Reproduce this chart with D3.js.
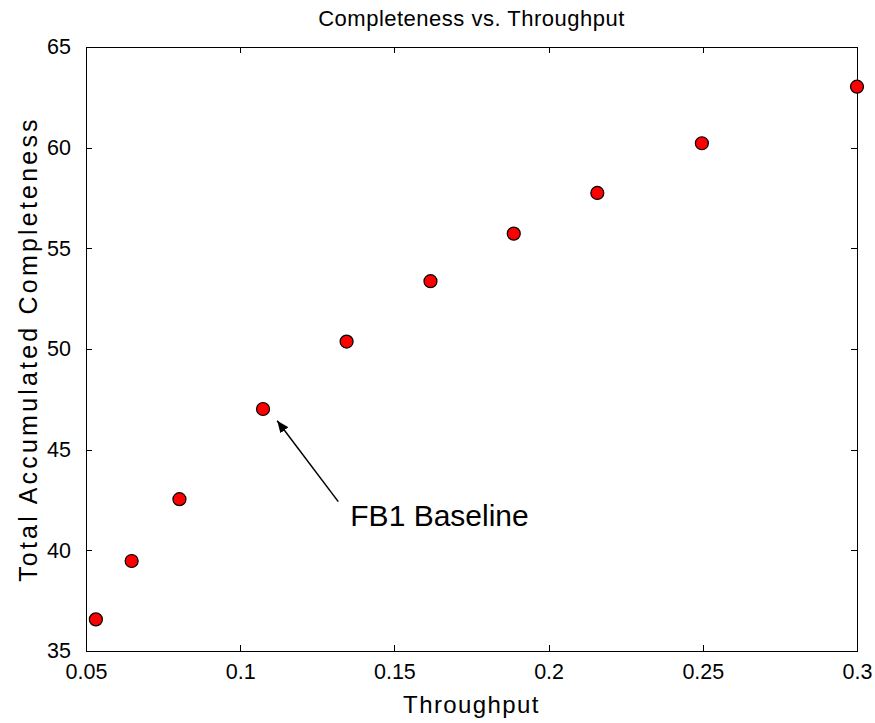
<!DOCTYPE html>
<html>
<head>
<meta charset="utf-8">
<script src="https://cdn.jsdelivr.net/npm/d3@7"></script>
<style>
  body { margin: 0; background: #fff; }
  svg { display: block; }
  text { font-family: "Liberation Sans", Arial, sans-serif; fill: #000; }
</style>
</head>
<body>
<svg id="chart" width="875" height="723"></svg>
<script>
// ---- data ----
const throughput   = [0.0532, 0.0648, 0.0803, 0.1074, 0.1345, 0.1617, 0.1887, 0.2158, 0.2497, 0.3000];
const completeness = [36.57, 39.47, 42.54, 47.02, 50.37, 53.37, 55.73, 57.75, 60.22, 63.03];
const xTicks = [0.05, 0.1, 0.15, 0.2, 0.25, 0.3];
const xTickLabels = ["0.05", "0.1", "0.15", "0.2", "0.25", "0.3"];
const yTicks = [35, 40, 45, 50, 55, 60, 65];
const yTickLabels = ["35", "40", "45", "50", "55", "60", "65"];
const titleText = "Completeness vs. Throughput";
const xLabelText = "Throughput";
const yLabelText = "Total Accumulated Completeness";
const annotationText = "FB1 Baseline";
const annotationTip = [0.1120, 46.44];   // data coords of arrow tip
const annotationTail = [0.1318, 42.42];  // data coords of arrow tail
const annotationPos = [0.1357, 41.2];    // data coords of label baseline start

// ---- layout ----
const svg = d3.select("#chart");
const mLeft = 86, mTop = 47, mRight = 857, mBottom = 651;
const x = d3.scaleLinear().domain([0.05, 0.3]).range([mLeft, mRight]);
const y = d3.scaleLinear().domain([35, 65]).range([mBottom, mTop]);

const tickFont = "21.5px";
const tickLen = 6;

// axes
const gx = svg.append("g").attr("transform", `translate(0,${mBottom})`)
  .call(d3.axisBottom(x).tickValues(xTicks).tickFormat((d, i) => xTickLabels[i]).tickSizeInner(-tickLen).tickSizeOuter(0).tickPadding(13));
const gxt = svg.append("g").attr("transform", `translate(0,${mTop})`)
  .call(d3.axisTop(x).tickValues(xTicks).tickFormat("").tickSizeInner(-tickLen).tickSizeOuter(0));
const gy = svg.append("g").attr("transform", `translate(${mLeft},0)`)
  .call(d3.axisLeft(y).tickValues(yTicks).tickFormat((d, i) => yTickLabels[i]).tickSizeInner(-tickLen).tickSizeOuter(0).tickPadding(15));
const gyr = svg.append("g").attr("transform", `translate(${mRight},0)`)
  .call(d3.axisRight(y).tickValues(yTicks).tickFormat("").tickSizeInner(-tickLen).tickSizeOuter(0));

[gx, gxt, gy, gyr].forEach(g => {
  g.selectAll(".domain").remove();
  g.selectAll(".tick line").attr("stroke", "#000").attr("stroke-width", 1).attr("shape-rendering", "crispEdges");
  g.selectAll("text").style("font-size", tickFont).style("font-family", "'Liberation Sans', Arial, sans-serif").attr("fill", "#000");
});
gx.selectAll(".tick text").attr("dy", "0.71em");

// box
svg.append("rect")
  .attr("x", mLeft).attr("y", mTop).attr("width", mRight - mLeft).attr("height", mBottom - mTop)
  .attr("fill", "none").attr("stroke", "#000").attr("stroke-width", 1).attr("shape-rendering", "crispEdges");

// points
svg.append("g").selectAll("circle")
  .data(throughput.map((t, i) => [t, completeness[i]]))
  .join("circle")
  .attr("cx", d => x(d[0]))
  .attr("cy", d => y(d[1]))
  .attr("r", 6.5)
  .attr("fill", "#ff0000")
  .attr("stroke", "#000")
  .attr("stroke-width", 1.2);

// annotation arrow
const defs = svg.append("defs");
defs.append("marker")
  .attr("id", "arrowhead")
  .attr("viewBox", "0 0 12 10")
  .attr("refX", 12).attr("refY", 5)
  .attr("markerWidth", 12).attr("markerHeight", 10)
  .attr("markerUnits", "userSpaceOnUse")
  .attr("orient", "auto")
  .append("path").attr("d", "M0,0 L12,5 L0,10 Z").attr("fill", "#000");

svg.append("line")
  .attr("x1", x(annotationTail[0])).attr("y1", y(annotationTail[1]))
  .attr("x2", x(annotationTip[0])).attr("y2", y(annotationTip[1]))
  .attr("stroke", "#000").attr("stroke-width", 1.5)
  .attr("marker-end", "url(#arrowhead)");

svg.append("text")
  .attr("x", x(annotationPos[0])).attr("y", y(annotationPos[1]))
  .style("font-size", "30px")
  .text(annotationText);

// title and axis labels
svg.append("text")
  .attr("x", (mLeft + mRight) / 2).attr("y", 26)
  .attr("text-anchor", "middle")
  .style("font-size", "22px").style("letter-spacing", "0.5px")
  .text(titleText);

svg.append("text")
  .attr("x", (mLeft + mRight) / 2).attr("y", 713)
  .attr("text-anchor", "middle")
  .style("font-size", "24px").style("letter-spacing", "1.4px")
  .text(xLabelText);

svg.append("text")
  .attr("transform", `translate(37,${(mTop + mBottom) / 2}) rotate(-90)`)
  .attr("text-anchor", "middle")
  .style("font-size", "25px").style("letter-spacing", "3.2px")
  .text(yLabelText);
</script>
</body>
</html>
